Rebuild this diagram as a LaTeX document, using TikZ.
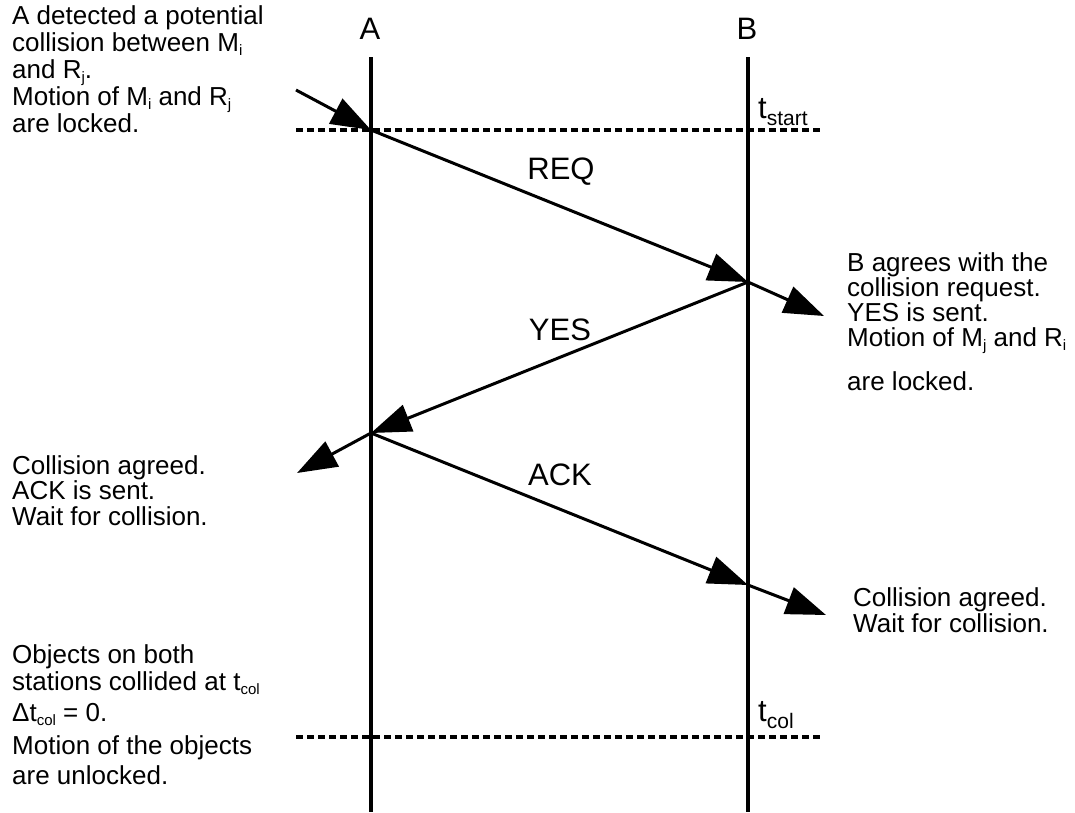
\documentclass[tikz,border=0pt]{standalone}
\usepackage{fontspec}
\setmainfont{Liberation Sans}
\usetikzlibrary{arrows.meta}
% lowered indices: small one for the notes, larger one for the time labels
\newcommand\lowsub[1]{\raisebox{-4pt}{\fontsize{15}{15}\selectfont #1}}
\newcommand\timesub[1]{\raisebox{-7pt}{\fontsize{21}{21}\selectfont #1}}
% keep line distances fixed even with lowered indices
\lineskiplimit=-100pt
\begin{document}
\begin{tikzpicture}[x=1pt,y=-1pt,
  lifeline/.style={line width=3.2pt},
  timemark/.style={line width=4pt, dash pattern=on 6.5pt off 4.5pt},
  msg/.style={line width=3pt, -{Triangle[length=40pt,width=28pt]}},
  lbl/.style={font=\fontsize{31}{33}\selectfont, inner sep=0pt},
  note/.style={inner sep=0pt, anchor=north west, align=left},
]
\useasboundingbox (0,0) rectangle (1075,812);

% stations
\node[lbl, anchor=base] (labA) at (370,39) {A};
\node[lbl, anchor=base] (labB) at (747,39) {B};
\coordinate (Atop) at (371,57);
\coordinate (Abot) at (371,812);
\coordinate (Btop) at (748,57);
\coordinate (Bbot) at (748,812);
\draw[lifeline] (Atop) -- (Abot);
\draw[lifeline] (Btop) -- (Bbot);

% time marks
\coordinate (startL) at (296,130);
\coordinate (startR) at (823,130);
\coordinate (colL) at (296,737);
\coordinate (colR) at (823,737);
\draw[timemark] (startL) -- (startR);
\draw[timemark] (colL) -- (colR);
\node[lbl, anchor=base west] (tstart) at (758,118) {t\timesub{start}};
\node[lbl, anchor=base west] (tcol) at (758,721) {t\timesub{col}};

% message events
\coordinate (in0) at (296,90);
\coordinate (A1) at (371,130);
\coordinate (B1) at (748,282);
\coordinate (A2) at (371,433);
\coordinate (B2) at (748,585);
\coordinate (outB1) at (824,316);
\coordinate (outA2) at (297,473);
\coordinate (outB2) at (826,615);

\draw[msg] (in0) -- (A1);
\draw[msg] (A1) -- (B1);
\draw[msg] (B1) -- (outB1);
\draw[msg] (B1) -- (A2);
\draw[msg] (A2) -- (outA2);
\draw[msg] (A2) -- (B2);
\draw[msg] (B2) -- (outB2);

\node[lbl] (req) at (561,172) {REQ};
\node[lbl] (yes) at (560,330) {YES};
\node[lbl] (ack) at (560,475) {ACK};

% notes
\node[note, font=\fontsize{26}{27}\selectfont] (n1) at (12,5) {A detected a potential\\
  collision between M\lowsub{i}\\
  and R\lowsub{j}.\\
  Motion of M\lowsub{i} and R\lowsub{j}\\
  are locked.};
\node[note, font=\fontsize{26}{25}\selectfont] (n2) at (847,252) {B agrees with the\\
  collision request.\\
  YES is sent.\\
  Motion of M\lowsub{j} and R\lowsub{i}\\[19pt]
  are locked.};
\node[note, font=\fontsize{26}{25.5}\selectfont] (n3) at (12,455) {Collision agreed.\\
  ACK is sent.\\
  Wait for collision.};
\node[note, font=\fontsize{26}{26}\selectfont] (n4) at (853,587) {Collision agreed.\\
  Wait for collision.};
\node[note, font=\fontsize{26}{27}\selectfont] (n5) at (12,644) {Objects on both\\
  stations collided at t\lowsub{col}\\[4pt]
  Δt\lowsub{col} = 0.\\[6pt]
  Motion of the objects\\[3pt]
  are unlocked.};
\end{tikzpicture}
\end{document}
